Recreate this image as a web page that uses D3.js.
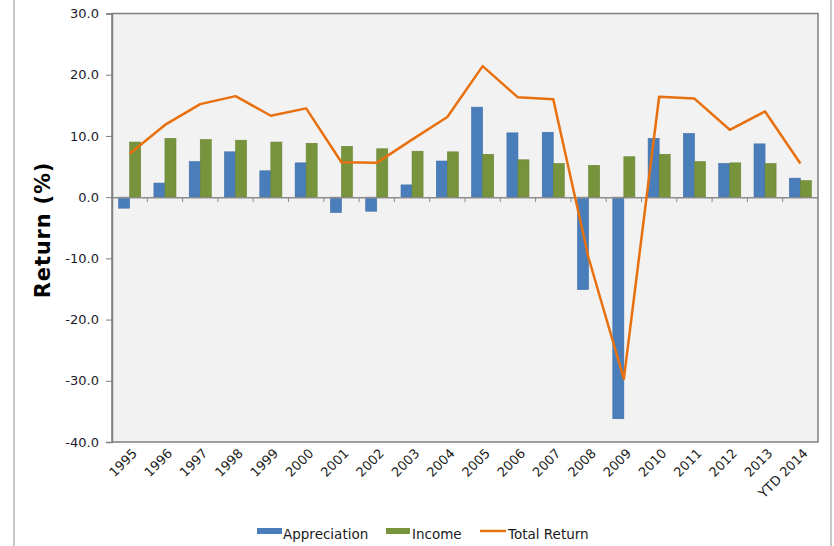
<!DOCTYPE html>
<html>
<head>
<meta charset="utf-8">
<script src="https://cdn.jsdelivr.net/npm/d3@7"></script>
<style>
  body { margin: 0; background: #fff; }
  svg text { font-family: "DejaVu Sans", Verdana, sans-serif; }
</style>
</head>
<body>
<svg id="chart" width="834" height="546"></svg>
<script>
// data
const years = ["1995", "1996", "1997", "1998", "1999", "2000", "2001", "2002", "2003", "2004",
  "2005", "2006", "2007", "2008", "2009", "2010", "2011", "2012", "2013", "YTD 2014"];
const appreciation = [-1.8, 2.3, 5.8, 7.4, 4.3, 5.6, -2.5, -2.3, 2.0, 5.9,
  14.7, 10.5, 10.6, -15.1, -36.2, 9.6, 10.4, 5.5, 8.7, 3.1];
const income = [9.0, 9.6, 9.4, 9.3, 9.0, 8.8, 8.3, 7.9, 7.5, 7.4,
  7.0, 6.1, 5.5, 5.2, 6.6, 7.0, 5.8, 5.6, 5.5, 2.7];
const totalReturn = [7.1, 11.8, 15.2, 16.5, 13.3, 14.5, 5.7, 5.6, 9.4, 13.1,
  21.4, 16.3, 16.0, -9.9, -29.7, 16.4, 16.1, 11.0, 14.0, 5.5];
const yTicks = [30, 20, 10, 0, -10, -20, -30, -40];
const seriesNames = ["Appreciation", "Income", "Total Return"];

const blue = "#4a7ebb", green = "#77933c", orange = "#e8700f";

const svg = d3.select("#chart");

// outer frame lines (left / right)
svg.append("line").attr("x1", 14).attr("x2", 14).attr("y1", 0).attr("y2", 546)
  .attr("stroke", "#c8c8c8").attr("stroke-width", 2);
svg.append("line").attr("x1", 831).attr("x2", 831).attr("y1", 0).attr("y2", 546)
  .attr("stroke", "#c8c8c8").attr("stroke-width", 2);

let plotLeft = 112, plotRight = 818, plotTop = 13.5, plotBottom = 442;

let x = d3.scaleBand().domain(years).range([plotLeft, plotRight]).padding(0);
let xs = d3.scaleBand().domain([0, 1]).range([0, x.bandwidth()]).paddingInner(0).paddingOuter(0.6);
let y = d3.scaleLinear().domain([-40, 30]).range([plotBottom, plotTop]);

// plot background
svg.append("rect").attr("x", plotLeft).attr("y", plotTop)
  .attr("width", plotRight - plotLeft).attr("height", plotBottom - plotTop)
  .attr("fill", "#f2f2f2").attr("stroke", "#7f7f7f").attr("stroke-width", 1.5);

// y axis (plain hyphen for negatives, like the original)
let fmt = d => d.toFixed(1);
let yAxis = d3.axisLeft(y).tickValues(yTicks).tickFormat(fmt).tickSize(6).tickPadding(7);
let gy = svg.append("g").attr("transform", "translate(" + plotLeft + ",0)").call(yAxis);
gy.select(".domain").attr("stroke", "#7f7f7f").attr("stroke-width", 1.5);
gy.selectAll(".tick line").attr("stroke", "#7f7f7f");
gy.selectAll(".tick text").attr("font-size", 13).attr("fill", "#1a1a2a")
  .attr("font-family", "DejaVu Sans");

// bars
const bars = svg.append("g");
bars.selectAll(".app").data(appreciation).join("rect")
  .attr("x", (d, i) => x(years[i]) + xs(0))
  .attr("width", xs.bandwidth())
  .attr("y", d => y(Math.max(0, d)))
  .attr("height", d => Math.abs(y(d) - y(0)))
  .attr("fill", blue).attr("stroke", "#3d6da6").attr("stroke-width", 0.6);
bars.selectAll(".inc").data(income).join("rect")
  .attr("x", (d, i) => x(years[i]) + xs(1))
  .attr("width", xs.bandwidth())
  .attr("y", d => y(Math.max(0, d)))
  .attr("height", d => Math.abs(y(d) - y(0)))
  .attr("fill", green).attr("stroke", "#6a8534").attr("stroke-width", 0.6);

// zero axis with category ticks
let xAxis = d3.axisBottom(x).tickSize(0).tickFormat("");
let gx = svg.append("g").attr("transform", "translate(0," + y(0) + ")").call(xAxis);
gx.select(".domain").attr("stroke", "#8c8c8c").attr("stroke-width", 1.5);
gx.selectAll(".tick").remove();
gx.selectAll(".bound").data(years.slice(1)).join("line")
  .attr("x1", d => x(d)).attr("x2", d => x(d))
  .attr("y1", 0).attr("y2", 5)
  .attr("stroke", "#8c8c8c").attr("stroke-width", 1);

// total return line
let line = d3.line()
  .x((d, i) => x(years[i]) + x.bandwidth() / 2)
  .y(d => y(d));
svg.append("path").datum(totalReturn)
  .attr("fill", "none").attr("stroke", orange).attr("stroke-width", 2.5)
  .attr("stroke-linejoin", "round")
  .attr("d", line);

// category labels
svg.append("g").selectAll("text").data(years).join("text")
  .attr("transform", d => "translate(" + (x(d) + x.bandwidth() / 2 + 5) + "," + (plotBottom + 9) + ") rotate(-45)")
  .attr("text-anchor", "end")
  .attr("dy", "0.35em")
  .attr("font-size", 13)
  .attr("fill", "#1a1a1a")
  .text(d => d);

// y title
svg.append("text")
  .attr("transform", "translate(50,230) rotate(-90)")
  .attr("text-anchor", "middle")
  .attr("font-size", 21).attr("font-weight", "bold")
  .attr("letter-spacing", 0.8)
  .attr("fill", "#000")
  .text("Return (%)");

// legend
const legend = svg.append("g").attr("font-size", 13.5).attr("fill", "#1a1a1a");
const legendX = [257, 386, 480];
legend.append("rect").attr("x", legendX[0]).attr("y", 528).attr("width", 25).attr("height", 6).attr("fill", blue);
legend.append("rect").attr("x", legendX[1]).attr("y", 528).attr("width", 24).attr("height", 6).attr("fill", green);
legend.append("line").attr("x1", legendX[2]).attr("x2", legendX[2] + 26).attr("y1", 531).attr("y2", 531)
  .attr("stroke", orange).attr("stroke-width", 2.5);
const legendTextX = [283, 412, 508];
legend.selectAll("text").data(seriesNames).join("text")
  .attr("x", (d, i) => legendTextX[i]).attr("y", 539)
  .attr("font-family", "DejaVu Sans Condensed, DejaVu Sans")
  .text(d => d);
</script>
</body>
</html>
